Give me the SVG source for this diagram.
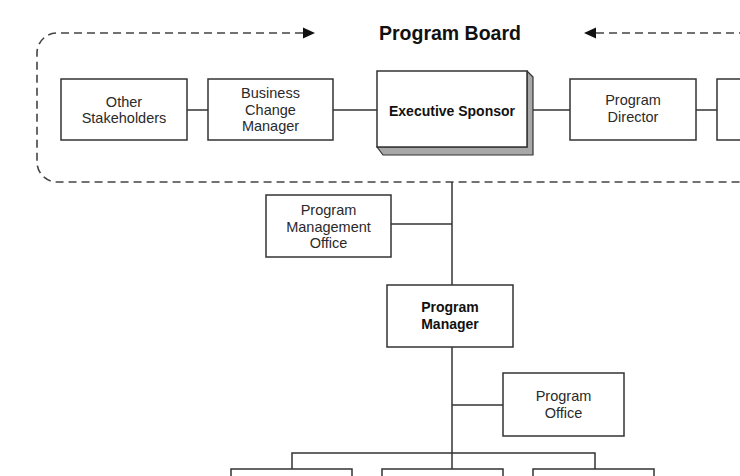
<svg xmlns="http://www.w3.org/2000/svg" width="740" height="476" viewBox="0 0 740 476">
<style>
.box{fill:#fff;stroke:#333;stroke-width:1.5}
.face{fill:#a8a8a8;stroke:#333;stroke-width:1.2;stroke-linejoin:round}
.t{font-family:"Liberation Sans",Arial,sans-serif;font-size:14.5px;fill:#2a2a2a;text-anchor:middle}
.b{font-family:"Liberation Sans",Arial,sans-serif;font-size:14px;font-weight:bold;fill:#111;text-anchor:middle}
.ln{stroke:#333;stroke-width:1.5;fill:none}
.dash{stroke:#444;stroke-width:1.6;fill:none;stroke-dasharray:8 5}
</style>
<defs>
<marker id="ah" viewBox="0 0 12 11" refX="12" refY="5.5" markerWidth="12" markerHeight="11" markerUnits="userSpaceOnUse" orient="auto">
<path d="M0,0 L12,5.5 L0,11 Z" fill="#111"/>
</marker>
</defs>
<rect width="740" height="476" fill="#fff"/>

<g id="program-board">
<path class="dash" d="M303,33 H57 A20,20 0 0 0 37,53 V162 A20,20 0 0 0 57,182 H760"/>
<line class="dash" x1="760" y1="33" x2="586" y2="33"/>
<path d="M303,27.5 L315,33 L303,38.5 Z" fill="#111"/>
<path d="M596,27.5 L584,33 L596,38.5 Z" fill="#111"/>
<text x="450" y="40" font-family="'Liberation Sans',Arial,sans-serif" font-size="19.5" font-weight="bold" fill="#111" text-anchor="middle">Program Board</text>
</g>

<g id="connectors">
<line class="ln" x1="187" y1="110" x2="208" y2="110"/>
<line class="ln" x1="333" y1="110" x2="377" y2="110"/>
<line class="ln" x1="533" y1="110" x2="570" y2="110"/>
<line class="ln" x1="696" y1="110" x2="717" y2="110"/>
<line class="ln" x1="452" y1="182" x2="452" y2="285"/>
<line class="ln" x1="391" y1="224" x2="452" y2="224"/>
<line class="ln" x1="452" y1="347" x2="452" y2="469"/>
<line class="ln" x1="452" y1="405" x2="503" y2="405"/>
<path class="ln" d="M292,469 V453 H595 V469"/>
</g>

<g id="other-stakeholders">
<rect class="box" x="61" y="79" width="126" height="61"/>
<text class="t" x="124" y="106.5">Other</text>
<text class="t" x="124" y="123">Stakeholders</text>
</g>

<g id="business-change-manager">
<rect class="box" x="208" y="79" width="125" height="61"/>
<text class="t" x="270.5" y="98">Business</text>
<text class="t" x="270.5" y="114.5">Change</text>
<text class="t" x="270.5" y="131">Manager</text>
</g>

<g id="executive-sponsor">
<path class="face" d="M527,71 L533,77 L533,155 L383,155 L377,147 L527,147 Z"/>
<rect class="box" x="377" y="71" width="150" height="76"/>
<text class="b" x="452" y="116">Executive Sponsor</text>
</g>

<g id="program-director">
<rect class="box" x="570" y="79" width="126" height="61"/>
<text class="t" x="633" y="105">Program</text>
<text class="t" x="633" y="122">Director</text>
</g>

<g id="offscreen-member">
<rect class="box" x="717" y="79" width="60" height="61"/>
</g>

<g id="program-management-office">
<rect class="box" x="266" y="195" width="125" height="62"/>
<text class="t" x="328.5" y="215">Program</text>
<text class="t" x="328.5" y="231.5">Management</text>
<text class="t" x="328.5" y="248">Office</text>
</g>

<g id="program-manager">
<rect class="box" x="387" y="285" width="126" height="62"/>
<text class="b" x="450" y="312">Program</text>
<text class="b" x="450" y="328.5">Manager</text>
</g>

<g id="program-office">
<rect class="box" x="503" y="373" width="121" height="63"/>
<text class="t" x="563.5" y="401">Program</text>
<text class="t" x="563.5" y="417.5">Office</text>
</g>

<g id="team-1"><rect class="box" x="231" y="469" width="121" height="30"/></g>
<g id="team-2"><rect class="box" x="382" y="469" width="121" height="30"/></g>
<g id="team-3"><rect class="box" x="533" y="469" width="121" height="30"/></g>
</svg>
